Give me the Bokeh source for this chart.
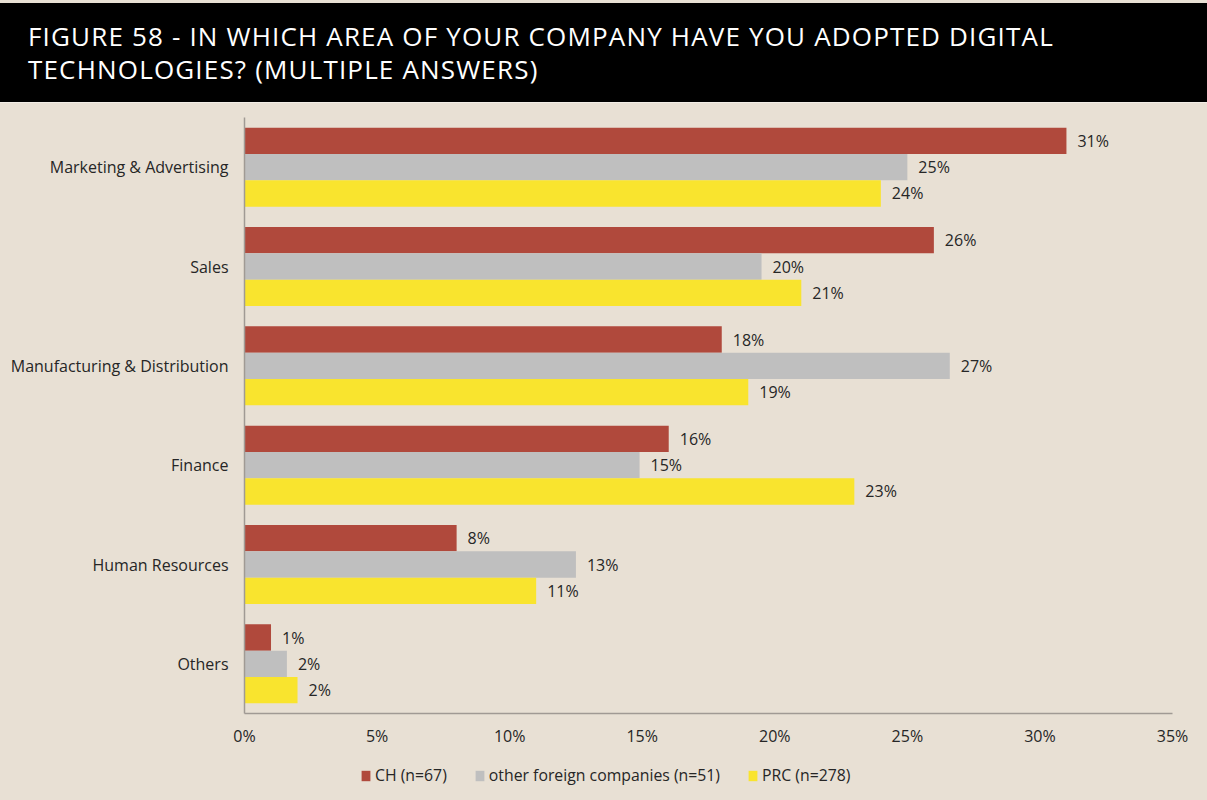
from bokeh.plotting import figure
from bokeh.models import ColumnDataSource, Range1d, FactorRange, Legend, LegendItem, FixedTicker, Div
from bokeh.transform import dodge
from bokeh.layouts import column
from bokeh.embed import file_html
from bokeh.resources import INLINE
from bokeh.core.properties import value

# ---- data ----
categories = ["Marketing & Advertising", "Sales", "Manufacturing & Distribution",
              "Finance", "Human Resources", "Others"]
ch_values = [31.0, 26.0, 18.0, 16.0, 8.0, 1.0]
other_values = [25.0, 19.5, 26.6, 14.9, 12.5, 1.6]
prc_values = [24.0, 21.0, 19.0, 23.0, 11.0, 2.0]
ch_labels = ["31%", "26%", "18%", "16%", "8%", "1%"]
other_labels = ["25%", "20%", "27%", "15%", "13%", "2%"]
prc_labels = ["24%", "21%", "19%", "23%", "11%", "2%"]
series_names = ["CH (n=67)", "other foreign companies (n=51)", "PRC (n=278)"]
x_ticks = [0, 5, 10, 15, 20, 25, 30, 35]
x_tick_labels = ["0%", "5%", "10%", "15%", "20%", "25%", "30%", "35%"]
title_lines = ["FIGURE 58 - IN WHICH AREA OF YOUR COMPANY HAVE YOU ADOPTED DIGITAL",
               "TECHNOLOGIES? (MULTIPLE ANSWERS)"]

# ---- style ----
BG = "#E8E0D4"
RED = "#B0493C"
GRAY = "#BFBFBF"
YELLOW = "#F9E42E"
TXT = "#262626"
AXIS = "#A09A94"
FONT = "Open Sans"
W = 1207
TITLE_H = 104
LEGEND_H = 45
CHART_H = 800 - TITLE_H - LEGEND_H
COLORS = [RED, GRAY, YELLOW]

# ---- title band (real HTML text) ----
title_html = (
    '<div style="width:%dpx;height:%dpx;background:%s;box-sizing:border-box;padding-top:3px;">'
    '<div style="width:100%%;height:100px;background:#000000;color:#ffffff;'
    'box-sizing:border-box;padding:17px 0 0 28px;font-family:\'Open Sans\';'
    'font-size:26px;line-height:33px;letter-spacing:1.17px;white-space:nowrap;'
    'border-bottom:1px solid #F2EDE6;">'
    '%s<br>%s</div></div>' % (W, TITLE_H, BG, title_lines[0], title_lines[1])
)
title_div = Div(text=title_html, width=W, height=TITLE_H, margin=0)

# ---- chart ----
src = ColumnDataSource(dict(cat=categories, ch=ch_values, other=other_values, prc=prc_values,
                            ch_lab=ch_labels, other_lab=other_labels, prc_lab=prc_labels))

p = figure(width=W, height=CHART_H, y_range=FactorRange(factors=categories[::-1]),
           x_range=Range1d(0, 35), toolbar_location=None, output_backend="svg",
           min_border_left=244, min_border_right=35, min_border_top=13, min_border_bottom=42,
           background_fill_color=BG, border_fill_color=BG, outline_line_color=None)
p.grid.visible = False

BH = 0.265
offs = [BH, 0.0, -BH]
vals = ["ch", "other", "prc"]
labs = ["ch_lab", "other_lab", "prc_lab"]
for off, c, v, lab in zip(offs, COLORS, vals, labs):
    p.hbar(y=dodge("cat", off, range=p.y_range), left=0, right=v, height=BH,
           fill_color=c, line_color=None, source=src)
    p.text(x=v, y=dodge("cat", off, range=p.y_range), text=lab, x_offset=11,
           text_baseline="middle", text_align="left", text_font=value(FONT),
           text_font_size="16px", text_color=TXT, source=src)

p.xaxis.ticker = FixedTicker(ticks=x_ticks)
p.xaxis.major_label_overrides = {t: l for t, l in zip(x_ticks, x_tick_labels)}
for ax in (p.xaxis, p.yaxis):
    ax.major_tick_line_color = None
    ax.minor_tick_line_color = None
    ax.major_tick_out = 0
    ax.major_tick_in = 0
    ax.axis_line_color = AXIS
    ax.axis_line_width = 1.5
    ax.major_label_text_font = FONT
    ax.major_label_text_font_size = "16px"
    ax.major_label_text_color = TXT
p.xaxis.major_label_standoff = 11
p.yaxis.major_label_standoff = 16

# ---- legend strip (hidden swatch renderers, legend only) ----
lf = figure(width=W, height=LEGEND_H, x_range=Range1d(0, 1), y_range=Range1d(0, 1),
            toolbar_location=None, output_backend="svg", x_axis_type=None, y_axis_type=None,
            min_border_left=244, min_border_right=35, min_border_top=0, min_border_bottom=0,
            background_fill_color=BG, border_fill_color=BG, outline_line_color=None)
lf.grid.visible = False
items = []
for name, c, v in zip(series_names, COLORS, vals):
    r = lf.hbar(y=v, right=v, left=0, height=0.5, fill_color=c, line_color=None,
                source=src, visible=False)
    items.append(LegendItem(label=name, renderers=[r], index=0))
legend = Legend(items=items, orientation="horizontal", location=(116, 14),
                border_line_color=None, background_fill_alpha=0,
                inactive_fill_alpha=0,
                glyph_width=11, glyph_height=13, label_standoff=4, spacing=27,
                label_text_font=FONT, label_text_font_size="15.8px", label_text_color=TXT,
                label_height=20, padding=0, margin=0)
lf.add_layout(legend, "center")

layout = column(title_div, p, lf, spacing=0, styles={"background-color": BG})
open("out.html", "w").write(file_html(layout, INLINE))
